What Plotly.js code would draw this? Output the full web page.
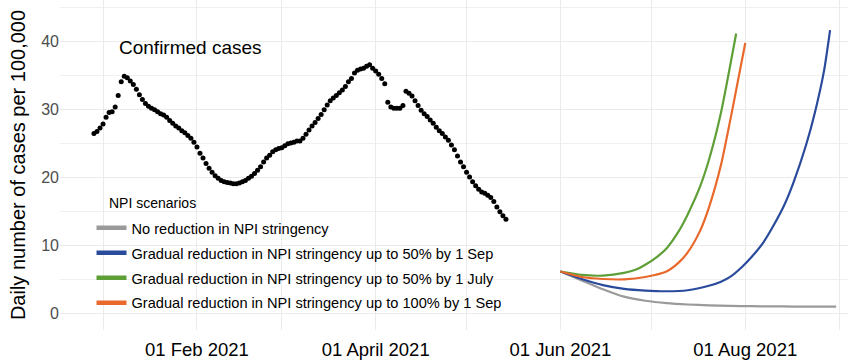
<!DOCTYPE html>
<html><head><meta charset="utf-8">
<script src="https://cdn.plot.ly/plotly-3.0.1.min.js"></script>
<style>html,body{margin:0;padding:0;background:#fff}#chart{width:850px;height:363px}</style>
</head><body><div id="chart"></div>
<script>
// Confirmed cases: daily values starting 2020-12-29
const confirmedStart = '2020-12-29';
const confirmed = [
26.4,26.7,27.2,27.8,28.8,29.5,29.6,30.3,32.0,34.0,34.8,34.6,34.1,33.6,32.9,32.1,31.4,30.8,30.4,30.1,
29.9,29.6,29.3,29.1,28.8,28.3,27.9,27.5,27.2,26.8,26.5,26.1,25.7,25.1,24.4,23.5,22.8,22.0,21.3,20.7,
20.2,19.8,19.5,19.3,19.2,19.1,19.0,19.0,19.1,19.3,19.5,19.8,20.1,20.5,21.0,21.5,22.2,22.8,23.2,23.7,
24.0,24.2,24.3,24.6,24.9,25.0,25.1,25.3,25.3,25.7,26.3,26.9,27.5,28.0,28.6,29.2,29.9,30.6,31.2,31.6,
32.0,32.4,32.8,33.3,34.0,34.5,35.3,35.7,35.9,36.0,36.3,36.5,36.0,35.6,35.1,34.5,33.7,31.0,30.3,30.1,
30.1,30.1,30.5,32.6,32.3,31.9,31.2,30.5,29.8,29.3,28.9,28.4,27.9,27.3,26.8,26.4,25.9,25.4,24.7,24.0,
23.1,22.2,21.5,20.7,20.0,19.3,18.7,18.2,17.8,17.6,17.3,17.0,16.4,15.6,14.9,14.3,13.8
];

// Scenario projections
const noReductionDates = ['2021-06-01','2021-06-08','2021-06-15','2021-06-22','2021-06-29','2021-07-06','2021-07-13','2021-07-20','2021-07-27','2021-08-03','2021-08-10','2021-08-17','2021-08-24','2021-08-31'];
const noReduction = [6.1,4.8,3.5,2.4,1.8,1.45,1.25,1.12,1.05,1.0,0.98,0.95,0.95,0.95];

const sep50Dates = ['2021-06-01','2021-06-08','2021-06-15','2021-06-22','2021-06-29','2021-07-06','2021-07-13','2021-07-20','2021-07-24','2021-07-27','2021-07-31','2021-08-03','2021-08-07','2021-08-10','2021-08-14','2021-08-17','2021-08-21','2021-08-24','2021-08-27','2021-08-29'];
const sep50 = [6.1,5.0,4.1,3.55,3.3,3.2,3.35,4.0,4.6,5.3,6.8,8.2,10.4,12.6,16.0,19.3,24.6,29.5,35.6,41.6];

const jul50Dates = ['2021-06-01','2021-06-08','2021-06-15','2021-06-22','2021-06-26','2021-06-29','2021-07-03','2021-07-06','2021-07-10','2021-07-13','2021-07-17','2021-07-20','2021-07-24','2021-07-29'];
const jul50 = [6.1,5.6,5.5,5.9,6.4,7.1,8.3,9.5,12.0,14.5,18.5,22.5,29.5,41.1];

const sep100Dates = ['2021-06-01','2021-06-08','2021-06-15','2021-06-22','2021-06-29','2021-07-06','2021-07-10','2021-07-13','2021-07-17','2021-07-20','2021-07-24','2021-07-28','2021-08-01'];
const sep100 = [6.1,5.3,5.0,4.95,5.3,6.1,7.4,8.9,12.0,15.5,21.8,30.5,39.7];

const scenarioNames = [
  'No reduction in NPI stringency',
  'Gradual reduction in NPI stringency up to 50% by 1 Sep',
  'Gradual reduction in NPI stringency up to 50% by 1 July',
  'Gradual reduction in NPI stringency up to 100% by 1 Sep'
];
const scenarioColors = ['#9a9a9a','#2a4a9c','#5f9f37','#e8692b'];

const xTickVals = ['2021-01-01','2021-02-01','2021-03-01','2021-04-01','2021-05-01','2021-06-01','2021-07-01','2021-08-01','2021-09-01'];
const xTickText = ['','01 Feb 2021','','01 April 2021','','01 Jun 2021','','01 Aug 2021',''];

function dayList(start, n){
  const out=[]; const d=new Date(start+'T00:00:00Z');
  for(let i=0;i<n;i++){ const t=new Date(d.getTime()+i*86400000); out.push(t.toISOString().slice(0,10)); }
  return out;
}

const FONT = 'Liberation Sans, Arial, sans-serif';
const traces = [];
const series = [[noReductionDates,noReduction],[sep50Dates,sep50],[jul50Dates,jul50],[sep100Dates,sep100]];
series.forEach((s,i)=>{
  traces.push({x:s[0], y:s[1], type:'scatter', mode:'lines', line:{color:scenarioColors[i], width:2.2, shape:'spline', smoothing:0.6}, showlegend:false, hoverinfo:'skip'});
});
traces.push({x:dayList(confirmedStart, confirmed.length), y:confirmed, type:'scatter', mode:'markers', marker:{color:'#000', size:5}, showlegend:false, name:'Confirmed cases'});
// legend entries
scenarioNames.forEach((n,i)=>{
  traces.push({x:[null], y:[null], type:'scatter', mode:'lines', name:n, line:{color:scenarioColors[i], width:4.5}, legendgroup:'g'+i, showlegend:true});
});

const layout = {
  width:850, height:363,
  margin:{l:60, r:2, t:0, b:33},
  paper_bgcolor:'#fff', plot_bgcolor:'#fff',
  font:{family:FONT, color:'#000'},
  showlegend:true,
  legend:{x:0.04, xanchor:'left', y:0.358, yanchor:'top', bgcolor:'rgba(0,0,0,0)',
    font:{size:14.6, family:FONT, color:'#000'},
    traceorder:'grouped', tracegroupgap:3},
  xaxis:{type:'date', range:['2020-12-17 19:00','2021-09-03 22:00'], tickmode:'array', tickvals:xTickVals, ticktext:xTickText,
    showgrid:true, gridcolor:'#ebebeb', gridwidth:1, zeroline:false, showline:false, ticks:'', ticklabelstandoff:6,
    tickfont:{size:18.5, family:FONT, color:'#000'}},
  yaxis:{range:[-2.5,46.03], tickmode:'array', tickvals:[0,10,20,30,40], ticktext:['0','10','20','30','40'],
    minor:{tickmode:'array', tickvals:[5,15,25,35,45], showgrid:true, gridcolor:'#f0f0f0', gridwidth:1},
    showgrid:true, gridcolor:'#ebebeb', gridwidth:1, zeroline:false, showline:false, ticks:'',
    tickfont:{size:16, family:FONT, color:'#4d4d4d'},
    title:{text:'Daily number of cases per 100,000', font:{size:20, family:FONT, color:'#000'}, standoff:10}},
  annotations:[
    {xref:'paper', yref:'paper', x:(190-60)/788, y:1-47/330, text:'Confirmed cases', showarrow:false,
     font:{size:19, family:FONT, color:'#000'}, xanchor:'center', yanchor:'middle'},
    {xref:'paper', yref:'paper', x:(107-60)/788, y:1-203/330, text:'NPI scenarios', showarrow:false,
     font:{size:14, family:FONT, color:'#000'}, xanchor:'left', yanchor:'middle'}
  ]
};
Plotly.newPlot('chart', traces, layout, {displayModeBar:false, staticPlot:true});
</script></body></html>
